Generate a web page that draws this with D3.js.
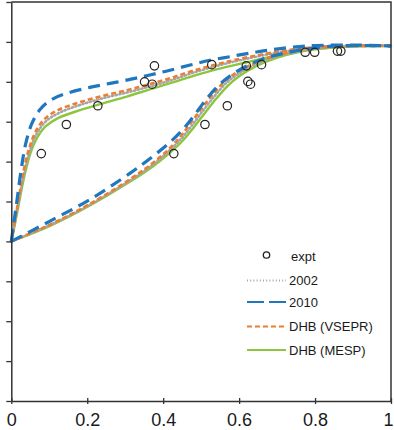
<!DOCTYPE html>
<html>
<head>
<meta charset="utf-8">
<script src="https://cdn.jsdelivr.net/npm/d3@7"></script>
<style>
  html, body { margin: 0; padding: 0; background: #fff; }
  svg { display: block; font-family: "Liberation Sans", Arial, sans-serif; }
</style>
</head>
<body>
<svg id="chart" width="394" height="430"></svg>
<script>
// ---------- data ----------
const xTicks = [0, 0.2, 0.4, 0.6, 0.8, 1];
const xTickLabels = ["0", "0.2", "0.4", "0.6", "0.8", "1"];
const yTicks = [0, 0.1, 0.2, 0.3, 0.4, 0.5, 0.6, 0.7, 0.8, 0.9, 1];

const exptX = [0.079, 0.145, 0.228, 0.351, 0.371, 0.377, 0.428, 0.510, 0.528, 0.569, 0.619, 0.623, 0.630, 0.659, 0.774, 0.799, 0.859, 0.868];
const exptY = [0.620, 0.693, 0.740, 0.800, 0.794, 0.840, 0.620, 0.693, 0.843, 0.740, 0.840, 0.801, 0.794, 0.843, 0.874, 0.874, 0.877, 0.877];

// upper branches
const mespUpper = [[0,0.400],[0.012,0.455],[0.023,0.510],[0.036,0.570],[0.050,0.620],[0.068,0.660],[0.090,0.688],[0.123,0.709],[0.181,0.729],[0.242,0.746],[0.304,0.763],[0.365,0.781],[0.427,0.799],[0.484,0.816],[0.540,0.831],[0.620,0.849],[0.700,0.866],[0.780,0.880],[0.860,0.887],[0.930,0.890],[1,0.890]];
const vseprUpper = [[0,0.400],[0.010,0.455],[0.020,0.510],[0.032,0.575],[0.046,0.630],[0.064,0.675],[0.088,0.707],[0.125,0.730],[0.181,0.749],[0.242,0.765],[0.304,0.779],[0.360,0.793],[0.418,0.809],[0.480,0.828],[0.558,0.848],[0.646,0.866],[0.734,0.880],[0.813,0.888],[0.900,0.891],[1,0.890]];
const y2002Upper = [[0,0.400],[0.011,0.455],[0.021,0.510],[0.034,0.572],[0.048,0.625],[0.066,0.668],[0.090,0.700],[0.128,0.723],[0.181,0.742],[0.242,0.759],[0.304,0.773],[0.360,0.787],[0.418,0.803],[0.480,0.823],[0.558,0.844],[0.646,0.863],[0.734,0.878],[0.813,0.887],[0.900,0.890],[1,0.890]];
const y2010Upper = [[0,0.400],[0.008,0.455],[0.016,0.510],[0.026,0.580],[0.038,0.645],[0.054,0.695],[0.075,0.730],[0.105,0.755],[0.149,0.772],[0.207,0.786],[0.260,0.796],[0.313,0.806],[0.365,0.817],[0.418,0.829],[0.471,0.842],[0.523,0.854],[0.576,0.863],[0.629,0.872],[0.682,0.880],[0.742,0.887],[0.804,0.891],[0.900,0.892],[1,0.890]];

// lower branches
const mespLower = [[0,0.400],[0.102,0.439],[0.207,0.490],[0.313,0.550],[0.370,0.586],[0.415,0.620],[0.450,0.651],[0.480,0.685],[0.510,0.722],[0.540,0.758],[0.570,0.790],[0.602,0.815],[0.646,0.840],[0.699,0.860],[0.760,0.875],[0.839,0.885],[0.920,0.889],[1,0.890]];
const vseprLower = [[0,0.400],[0.102,0.442],[0.207,0.494],[0.313,0.556],[0.368,0.593],[0.410,0.627],[0.443,0.660],[0.472,0.696],[0.502,0.734],[0.532,0.770],[0.562,0.801],[0.598,0.826],[0.643,0.848],[0.699,0.866],[0.760,0.879],[0.839,0.888],[0.920,0.890],[1,0.890]];
const y2002Lower = [[0,0.400],[0.102,0.441],[0.207,0.492],[0.313,0.553],[0.369,0.590],[0.412,0.624],[0.446,0.656],[0.476,0.691],[0.506,0.729],[0.536,0.765],[0.566,0.797],[0.600,0.821],[0.645,0.845],[0.699,0.864],[0.760,0.877],[0.839,0.887],[0.920,0.890],[1,0.890]];
const y2010Lower = [[0,0.400],[0.102,0.451],[0.207,0.505],[0.313,0.571],[0.374,0.614],[0.420,0.650],[0.455,0.684],[0.485,0.720],[0.515,0.758],[0.545,0.790],[0.578,0.816],[0.615,0.837],[0.664,0.858],[0.716,0.871],[0.769,0.881],[0.839,0.889],[0.920,0.891],[1,0.890]];

const seriesNames = ["2002", "2010", "DHB (VSEPR)", "DHB (MESP)"];

// ---------- drawing ----------
const svg = d3.select("#chart");
const x = d3.scaleLinear().domain([0, 1]).range([11.3, 391]);
const y = d3.scaleLinear().domain([0, 1]).range([401, 2]);

const styles = {
  "2002":        { color: "#a6a6a6", width: 2.6, dash: "1.2,2.6", cap: "round" },
  "2010":        { color: "#1f77c0", width: 3.2, dash: "12,7",   cap: "butt" },
  "DHB (VSEPR)": { color: "#ed7d31", width: 2.6, dash: "5,3",    cap: "butt" },
  "DHB (MESP)":  { color: "#8cc63e", width: 2.4, dash: null,     cap: "butt" }
};

const branches = [
  { name: "DHB (MESP)", pts: mespUpper }, { name: "DHB (MESP)", pts: mespLower },
  { name: "2002", pts: y2002Upper }, { name: "2002", pts: y2002Lower },
  { name: "DHB (VSEPR)", pts: vseprUpper }, { name: "DHB (VSEPR)", pts: vseprLower },
  { name: "2010", pts: y2010Upper }, { name: "2010", pts: y2010Lower }
];

const line = d3.line().x(d => x(d[0])).y(d => y(d[1])).curve(d3.curveCatmullRom.alpha(0.5));

svg.append("g").selectAll("path").data(branches).join("path")
  .attr("d", d => line(d.pts))
  .attr("fill", "none")
  .attr("stroke", d => styles[d.name].color)
  .attr("stroke-width", d => styles[d.name].width)
  .attr("stroke-dasharray", d => styles[d.name].dash)
  .attr("stroke-linecap", d => styles[d.name].cap);

// experimental points
svg.append("g").selectAll("circle").data(exptX.map((v, i) => [v, exptY[i]])).join("circle")
  .attr("cx", d => x(d[0])).attr("cy", d => y(d[1])).attr("r", 4.2)
  .attr("fill", "none").attr("stroke", "#222").attr("stroke-width", 1.2);

// frame (top and right)
svg.append("path")
  .attr("d", `M${x(0)},${y(1)}H${x(1)}V${y(0)}`)
  .attr("fill", "none").attr("stroke", "#333").attr("stroke-width", 1.5);

// x axis
const xAxis = svg.append("g").attr("transform", `translate(0,${y(0)})`)
  .call(d3.axisBottom(x).tickValues(xTicks).tickFormat((d, i) => xTickLabels[i]).tickSizeInner(-3).tickSizeOuter(0).tickPadding(12));
xAxis.select(".domain").attr("stroke", "#333").attr("stroke-width", 1.5);
xAxis.selectAll(".tick line").attr("stroke", "#333").attr("stroke-width", 1.3)
  .attr("y1", 3);
xAxis.selectAll(".tick text").attr("font-size", 18).attr("fill", "#1a1a1a")
  .attr("font-family", "'Liberation Sans', Arial, sans-serif")
  .attr("dx", (d, i) => i === xTicks.length - 1 ? -3 : 0);

// y axis
const yAxis = svg.append("g").attr("transform", `translate(${x(0)},0)`)
  .call(d3.axisLeft(y).tickValues(yTicks).tickFormat("").tickSizeInner(5).tickSizeOuter(0));
yAxis.select(".domain").attr("stroke", "#333").attr("stroke-width", 1.5);
yAxis.selectAll(".tick line").attr("stroke", "#333").attr("stroke-width", 1.3);

// legend
const leg = svg.append("g").attr("font-size", 13).attr("fill", "#1a1a1a");
const legRows = [
  { label: "expt", yPos: 256, type: "circle" },
  { label: seriesNames[0], yPos: 280.5, type: "line" },
  { label: seriesNames[1], yPos: 302, type: "line" },
  { label: seriesNames[2], yPos: 326.5, type: "line" },
  { label: seriesNames[3], yPos: 350, type: "line" }
];
legRows.forEach(r => {
  if (r.type === "circle") {
    leg.append("circle").attr("cx", 266.5).attr("cy", r.yPos - 1).attr("r", 3.2)
      .attr("fill", "none").attr("stroke", "#222").attr("stroke-width", 1.3);
    leg.append("text").attr("x", 291).attr("y", r.yPos + 4.5).text(r.label);
  } else {
    const s = styles[r.label];
    leg.append("line").attr("x1", 247).attr("x2", 286).attr("y1", r.yPos).attr("y2", r.yPos)
      .attr("stroke", s.color).attr("stroke-width", r.label === "2002" ? 1.8 : 2)
      .attr("stroke-dasharray", r.label === "2002" ? "1,2.2" : (r.label === "2010" ? "17,5" : s.dash))
      .attr("stroke-linecap", "butt");
    leg.append("text").attr("x", 289).attr("y", r.yPos + 4.5).text(r.label);
  }
});
</script>
</body>
</html>
